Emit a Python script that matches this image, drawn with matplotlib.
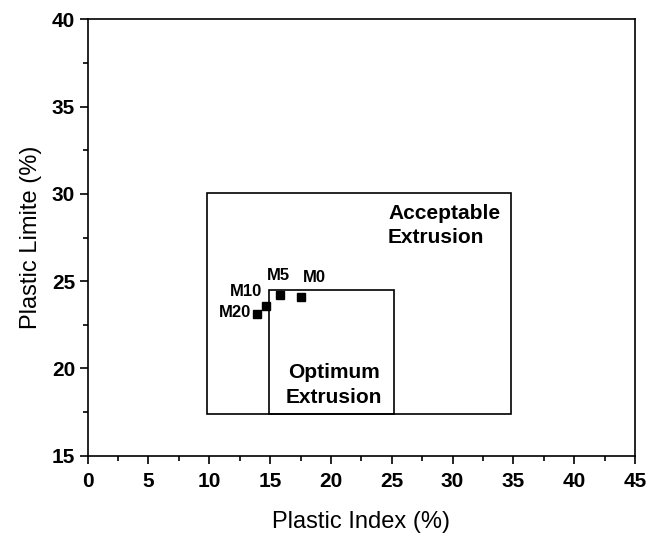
import matplotlib.pyplot as plt
import matplotlib.patches as patches
from matplotlib.ticker import MultipleLocator

plt.rcParams['font.family'] = ['Liberation Sans', 'DejaVu Sans']

# Mixtures: plastic index vs plastic limit
mixes = ["M0", "M5", "M10", "M20"]
plastic_index = [17.5, 15.8, 14.7, 13.9]
plastic_limit = [24.1, 24.2, 23.6, 23.1]

# Label offsets (points) for each mixture label
label_offsets = [(10, 14), (-1, 14), (-15, 10), (-4, 1)]
label_align = ["center", "center", "center", "right"]

# Extrusion zones: (x0, x1, y0, y1)
acceptable_zone = (9.8, 34.8, 17.4, 30.05)
optimum_zone = (14.9, 25.15, 17.4, 24.5)

fig = plt.figure(figsize=(6.5, 5.39), dpi=100)
ax = fig.add_axes([0.1349, 0.1545, 0.842, 0.8097])

for x0, x1, y0, y1 in (acceptable_zone, optimum_zone):
    ax.add_patch(patches.Rectangle((x0, y0), x1 - x0, y1 - y0,
                                   edgecolor="black", facecolor="none", linewidth=1.2))

ax.plot(plastic_index, plastic_limit, "s", color="black", markersize=6)

for name, x, y, off, ha in zip(mixes, plastic_index, plastic_limit, label_offsets, label_align):
    ax.annotate(name, (x, y), xytext=off, textcoords="offset points",
                ha=ha, va="center", fontsize=12, fontweight="bold")

ax.text(24.7, 28.2, "Acceptable\nExtrusion", ha="left", va="center",
        fontsize=15, fontweight="bold", linespacing=1.35)
ax.text(20.25, 19.05, "Optimum\nExtrusion", ha="center", va="center",
        fontsize=15, fontweight="bold", linespacing=1.35)

ax.set_xlim(0, 45)
ax.set_ylim(15, 40)
ax.xaxis.set_major_locator(MultipleLocator(5))
ax.xaxis.set_minor_locator(MultipleLocator(2.5))
ax.yaxis.set_major_locator(MultipleLocator(5))
ax.yaxis.set_minor_locator(MultipleLocator(2.5))
ax.tick_params(which="major", direction="out", length=6, width=1.2, labelsize=15, pad=3)
ax.tick_params(axis="x", which="major", pad=6)
ax.tick_params(which="minor", direction="out", length=3.5, width=1.2)
for lab in ax.get_xticklabels() + ax.get_yticklabels():
    lab.set_fontweight("bold")
for sp in ax.spines.values():
    sp.set_linewidth(1.2)

ax.set_xlabel("Plastic Index (%)", fontsize=17, labelpad=14)
ax.set_ylabel("Plastic Limite (%)", fontsize=17, labelpad=7)

fig.savefig("out.png", dpi=100)
